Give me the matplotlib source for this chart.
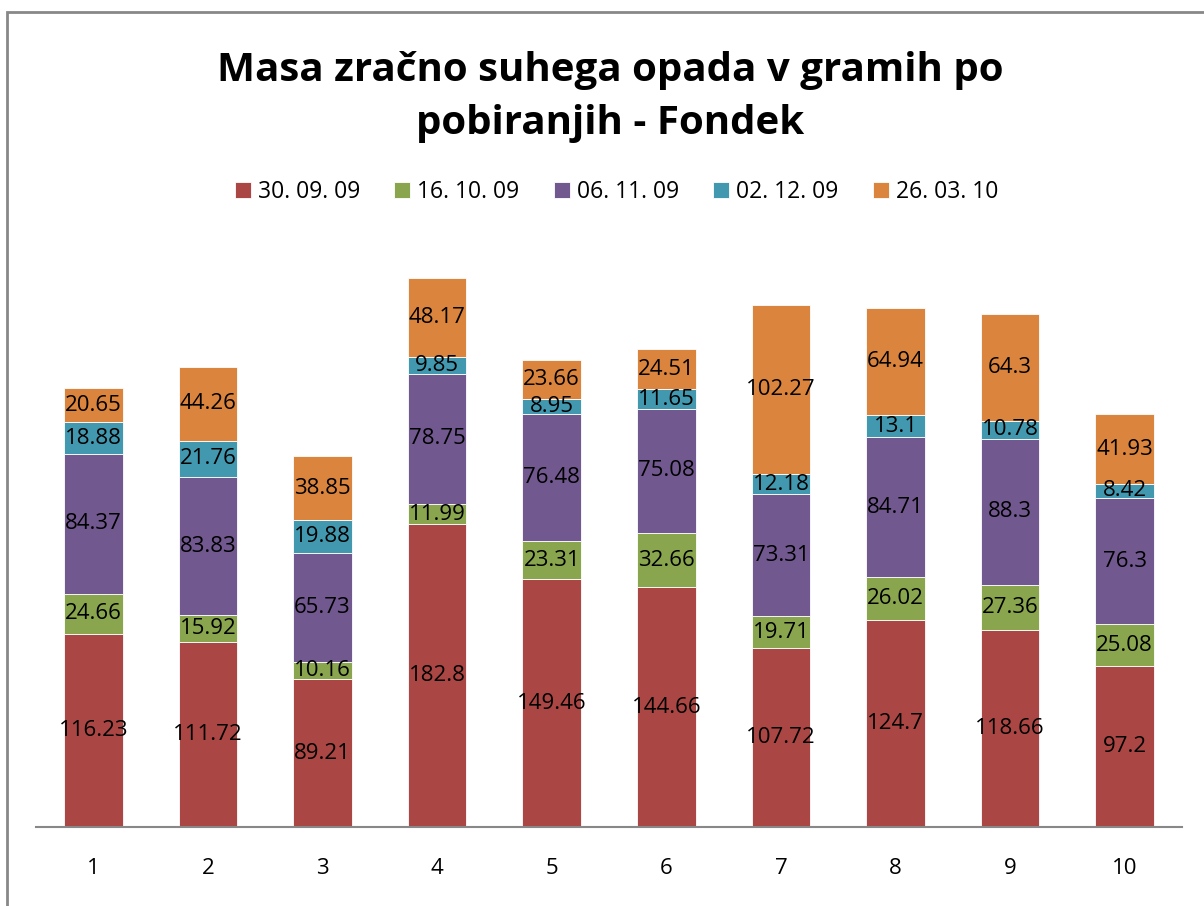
import matplotlib.pyplot as plt
from matplotlib.patches import Rectangle

# Masa opada po pobiranjih
categories = ["1", "2", "3", "4", "5", "6", "7", "8", "9", "10"]
dates = ["30. 09. 09", "16. 10. 09", "06. 11. 09", "02. 12. 09", "26. 03. 10"]
s_3009 = [116.23, 111.72, 89.21, 182.8, 149.46, 144.66, 107.72, 124.7, 118.66, 97.2]
s_1610 = [24.66, 15.92, 10.16, 11.99, 23.31, 32.66, 19.71, 26.02, 27.36, 25.08]
s_0611 = [84.37, 83.83, 65.73, 78.75, 76.48, 75.08, 73.31, 84.71, 88.3, 76.3]
s_0212 = [18.88, 21.76, 19.88, 9.85, 8.95, 11.65, 12.18, 13.1, 10.78, 8.42]
s_2603 = [20.65, 44.26, 38.85, 48.17, 23.66, 24.51, 102.27, 64.94, 64.3, 41.93]
colors = ["#AA4643", "#89A54E", "#71588F", "#4198AF", "#DB843D"]

plt.rcParams['font.family'] = ['Open Sans', 'DejaVu Sans']

fig = plt.figure(figsize=(12.04, 9.06), dpi=100)
ax = fig.add_axes([36 / 1204, 79 / 906, 1146 / 1204, 580 / 906])

x = range(len(categories))
bottom = [0] * len(categories)
for name, vals, col in zip(dates, [s_3009, s_1610, s_0611, s_0212, s_2603], colors):
    bars = ax.bar(x, vals, 0.51, bottom=bottom, color=col, label=name,
                  edgecolor="white", linewidth=0.6)
    ax.bar_label(bars, labels=["%g" % v for v in vals], label_type="center",
                 fontsize=16, color="black")
    bottom = [b + v for b, v in zip(bottom, vals)]

ax.set_xlim(-0.5, len(categories) - 0.5)
ax.set_ylim(0, 350)
ax.set_xticks(list(x))
ax.set_xticklabels(categories, fontsize=16)
ax.tick_params(axis="x", length=0, pad=22)
ax.set_yticks([])
for s in ["top", "right", "left"]:
    ax.spines[s].set_visible(False)
ax.spines["bottom"].set_color("#888888")
ax.spines["bottom"].set_linewidth(1.5)

fig.text(0.507, 1 - 97 / 906, "Masa zračno suhega opada v gramih po\npobiranjih - Fondek",
         ha="center", va="center", fontsize=29, fontweight="bold", linespacing=1.45)

handles, labels = ax.get_legend_handles_labels()
fig.legend(handles, labels, loc="center", bbox_to_anchor=(0.512, 1 - 192 / 906),
           ncol=5, frameon=False, fontsize=16.5, handlelength=0.7, handleheight=0.7,
           handletextpad=0.3, columnspacing=1.5)

fig.patches.append(Rectangle((7 / 1204, -0.1), 1.2, 1.1 - 12 / 906, transform=fig.transFigure,
                             fill=False, edgecolor="#888888", linewidth=2))

fig.savefig("out.png", dpi=100)
